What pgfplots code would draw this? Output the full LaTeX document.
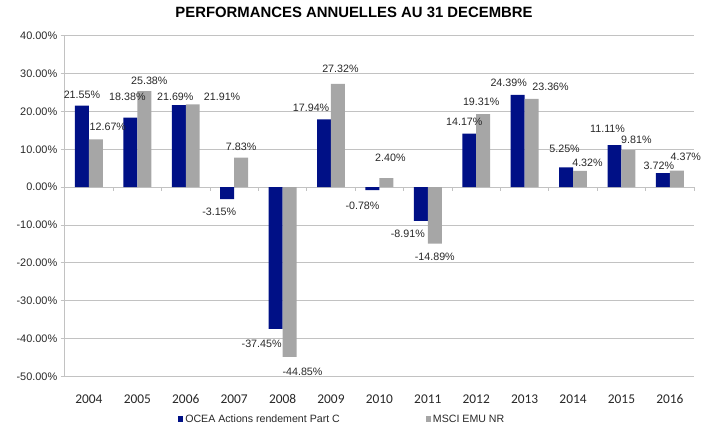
\documentclass[border=0pt]{standalone}
\usepackage{pgfplots}
\pgfplotsset{compat=1.18}
\usepackage{pgfplotstable}
\usepackage{fontspec}
\setmainfont{Liberation Sans}
\newfontfamily\carlito{Carlito}
\definecolor{ocblue}{RGB}{0,16,134}
\definecolor{msgray}{RGB}{166,166,166}
\definecolor{gridgray}{RGB}{194,194,194}
\definecolor{txt}{RGB}{40,40,40}

\pgfplotstableread{
x y lab dx dy
0 21.55 21.55 0 11
1 18.38 18.38 -3 21
2 21.69 21.69 -3.5 8
3 -3.15 -3.15 -8 -13
4 -37.45 -37.45 -14 -14.5
5 17.94 17.94 -13 12
6 -0.78 -0.78 -10 -16
7 -8.91 -8.91 -13 -13
8 14.17 14.17 -5 12
9 24.39 24.39 -9 12
10 5.25 5.25 -1.5 19
11 11.11 11.11 -7 16
12 3.72 3.72 -4 7
}\tblA

\pgfplotstableread{
x y lab dx dy
0 12.67 12.67 12 13
1 25.38 25.38 5 10
2 21.91 21.91 29.5 8
3 7.83 7.83 0 11
4 -44.85 -44.85 13 -14.5
5 27.32 27.32 2.5 15
6 2.40 2.40 4 20
7 -14.89 -14.89 0 -13
8 19.31 19.31 -2 12.5
9 23.36 23.36 19 12
10 4.32 4.32 7.5 8.5
11 9.81 9.81 8 10.7
12 4.37 4.37 9 14
}\tblB

\pgfplotsset{
  lbl/.style={draw=none, mark=none, forget plot,
    point meta=explicit symbolic,
    nodes near coords={\pgfplotspointmeta\%},
    visualization depends on={\thisrow{dx} \as \dx},
    visualization depends on={\thisrow{dy} \as \dy},
    every node near coord/.append style={anchor=center, xshift=\dx bp, yshift=\dy bp,
      font=\fontsize{10.8}{12}\selectfont, text=txt, inner sep=0pt}},
}

\begin{document}
\begin{tikzpicture}
\begin{axis}[
  at={(0,0)}, anchor=south west,
  scale only axis, width=632bp, height=342bp,
  xmin=-0.5, xmax=12.5, ymin=-50, ymax=40,
  clip=false,
  axis y line*=left, axis x line*=bottom,
  x axis line style={draw=gridgray, line width=0.8bp},
  y axis line style={draw=gridgray, line width=0.8bp},
  ytick={-50,-40,...,40},
  xtick={0,...,12},
  xticklabels={2004,2005,2006,2007,2008,2009,2010,2011,2012,2013,2014,2015,2016},
  xtick style={draw=none},
  ytick style={draw=gridgray, line width=0.8bp},
  tick align=outside, major tick length=4bp,
  ymajorgrids, grid style={draw=gridgray, line width=0.8bp},
  yticklabel={\pgfmathprintnumber[fixed,fixed zerofill,precision=2,assume math mode=true]{\tick}\%},
  yticklabel style={font=\fontsize{11}{13}\selectfont, text=txt},
  xticklabel style={font=\carlito\fontsize{13.5}{15}\selectfont, text=txt, anchor=center, yshift=-19bp},
  title={PERFORMANCES ANNUELLES AU 31 DECEMBRE},
  title style={font=\bfseries\fontsize{15}{18}\selectfont, text=black, at={(axis description cs:0.4597,1)}, anchor=center, yshift=18bp},
  legend style={at={(axis description cs:0.4407,0)}, anchor=center, yshift=-43bp, draw=none, fill=none,
    legend columns=2, font=\fontsize{10.7}{12}\selectfont, text=txt,
    /tikz/every even column/.append style={column sep=84bp}},
  legend cell align=left,
]
\addplot[ycomb, draw=gridgray, line width=0.8bp, mark=none, forget plot] coordinates {
(-0.5,-1.1) (0.5,-1.1) (1.5,-1.1) (2.5,-1.1) (3.5,-1.1) (4.5,-1.1) (5.5,-1.1)
(6.5,-1.1) (7.5,-1.1) (8.5,-1.1) (9.5,-1.1) (10.5,-1.1) (11.5,-1.1) (12.5,-1.1)};

\addplot[ybar, bar width=14bp, bar shift=-7bp, fill=ocblue, draw=none,
  legend image code/.code={\fill[ocblue] (0bp,-2.75bp) rectangle (5.5bp,2.75bp);}
] table[x=x, y=y] {\tblA};

\addplot[ybar, bar width=14bp, bar shift=7bp, fill=msgray, draw=none,
  legend image code/.code={\fill[msgray] (0bp,-2.75bp) rectangle (5.5bp,2.75bp);}
] table[x=x, y=y] {\tblB};

\addplot[lbl] table[x expr=\thisrow{x}-0.144, y=y, meta=lab] {\tblA};
\addplot[lbl] table[x expr=\thisrow{x}+0.144, y=y, meta=lab] {\tblB};

\legend{OCEA Actions rendement Part C, MSCI EMU NR}
\end{axis}
\path[use as bounding box] (-65bp,-50bp) rectangle (636bp,378bp);
\end{tikzpicture}
\end{document}
